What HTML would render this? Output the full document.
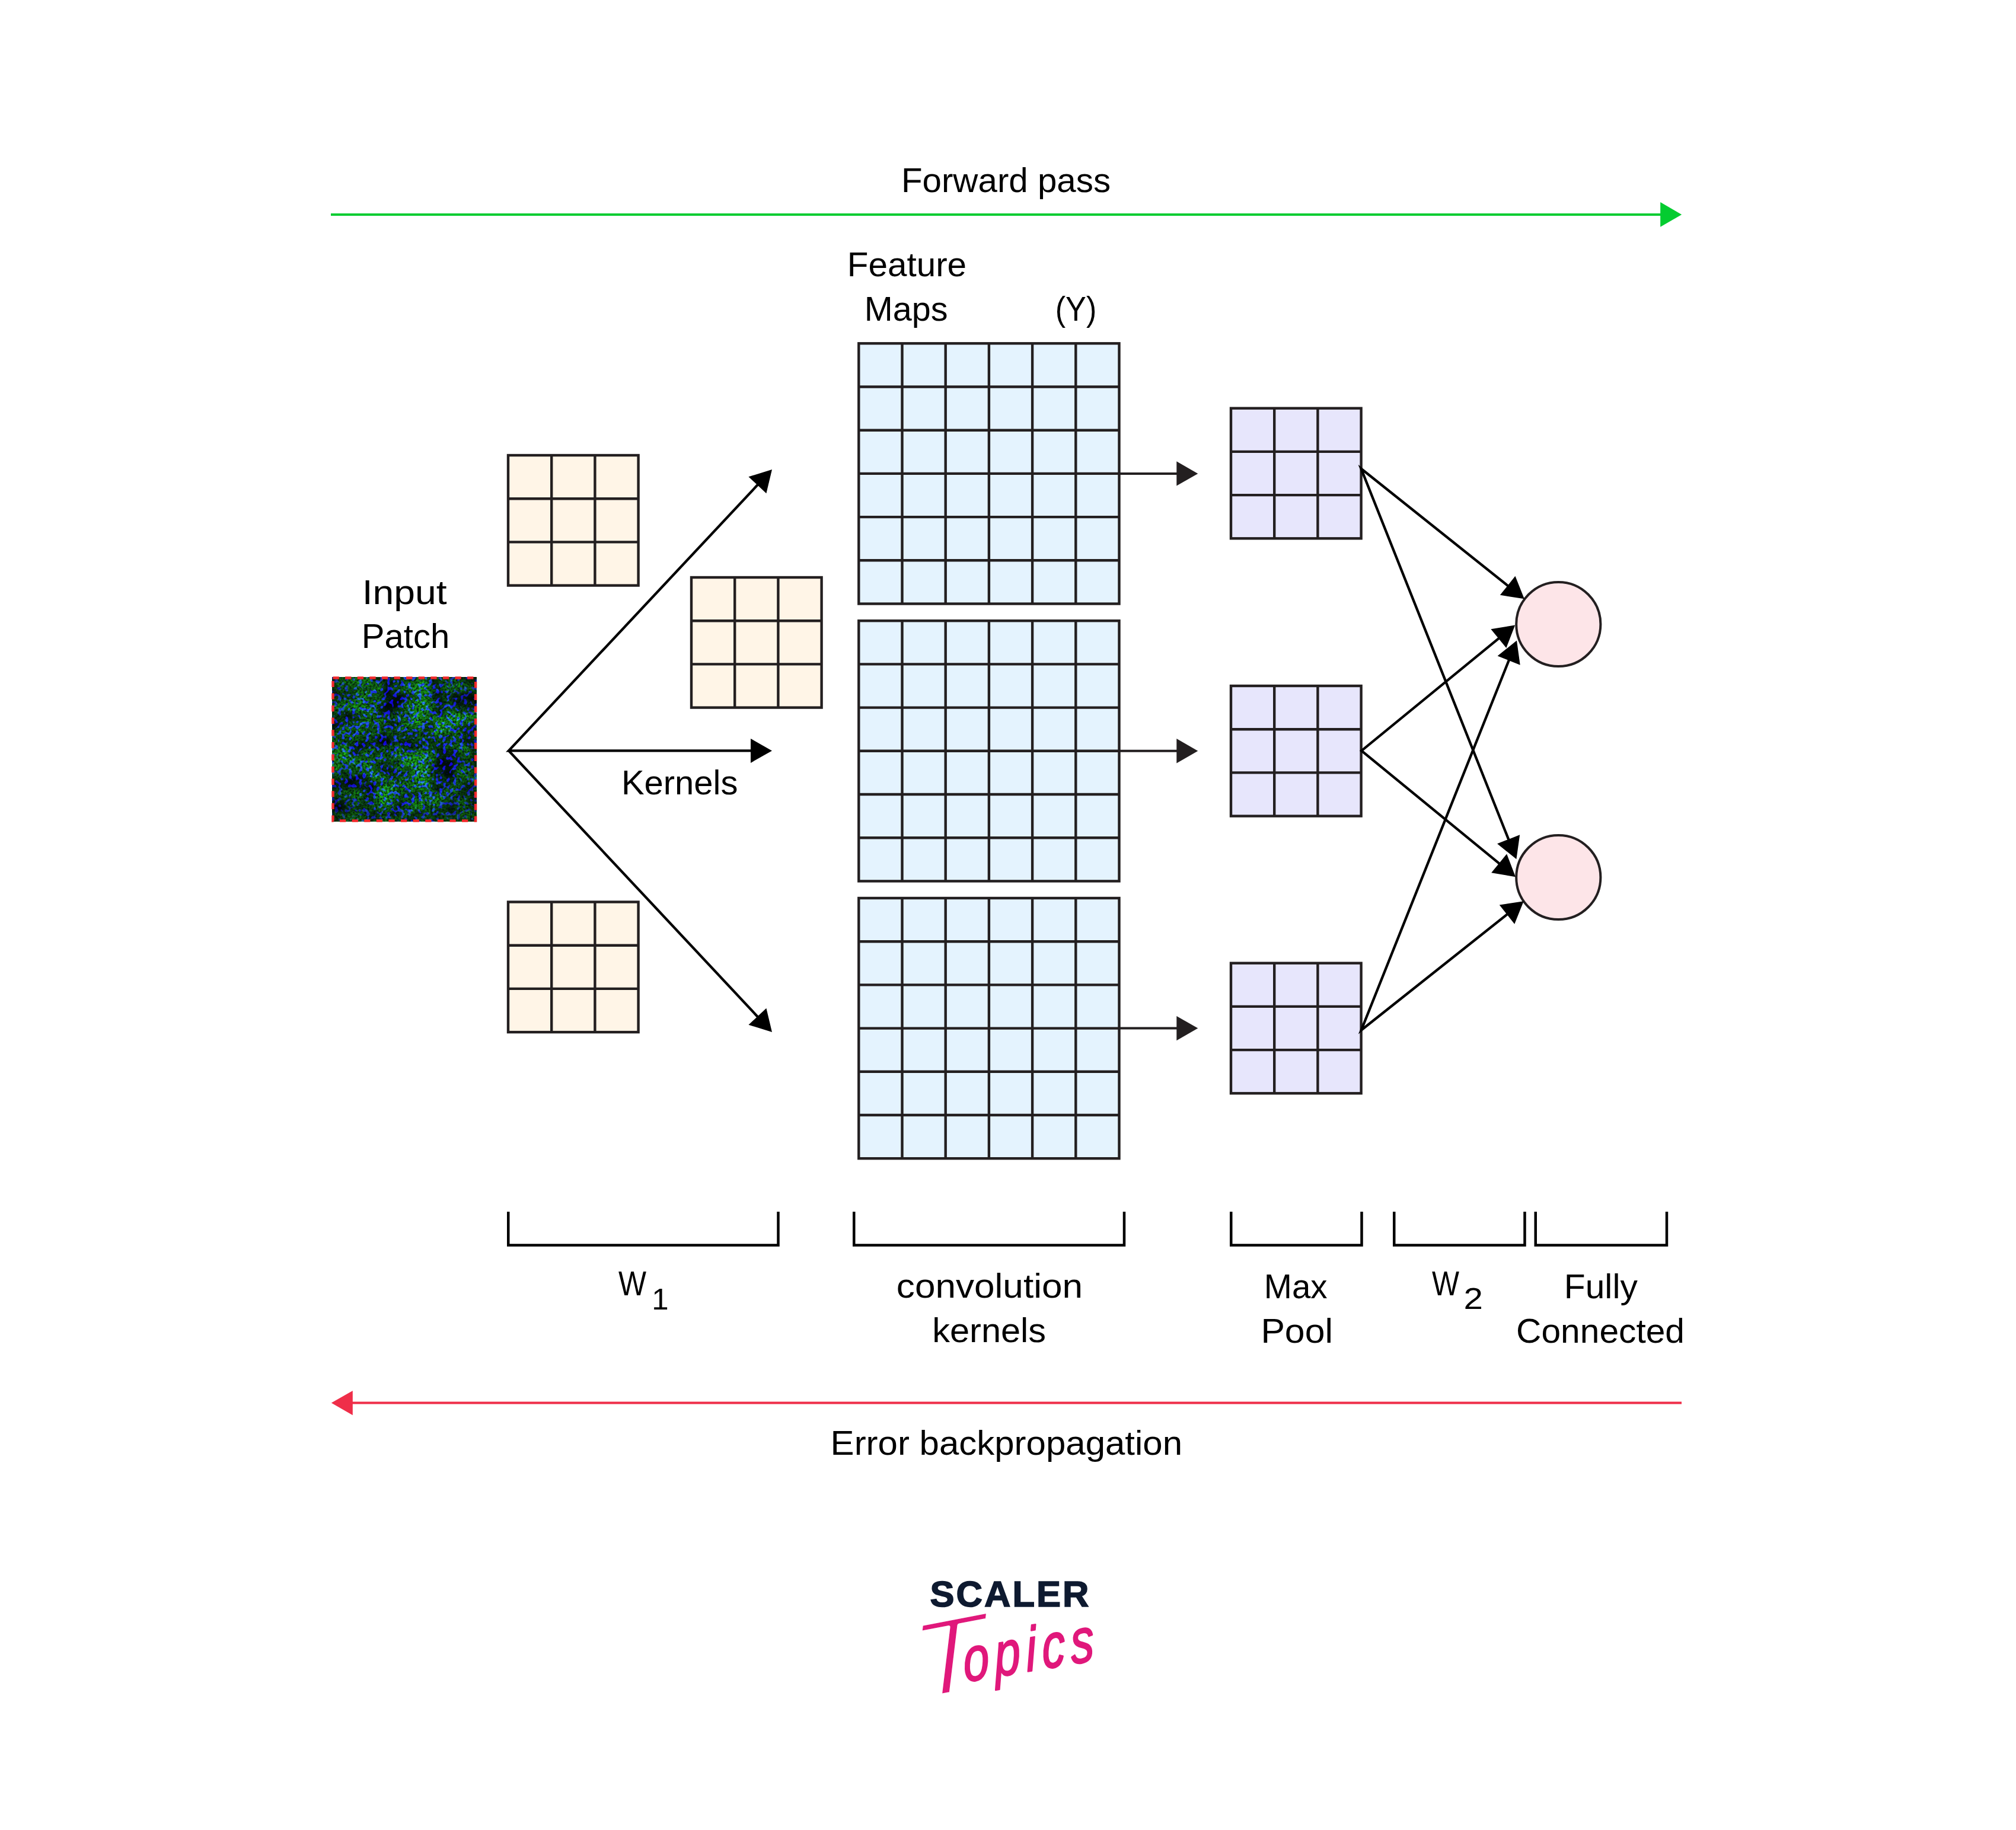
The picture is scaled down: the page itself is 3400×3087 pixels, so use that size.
<!DOCTYPE html>
<html lang="en">
<head>
<meta charset="utf-8">
<title>CNN forward pass and error backpropagation</title>
<style>
html,body{margin:0;padding:0;background:#fff;}
body{width:3400px;height:3087px;overflow:hidden;}
svg{display:block;}
svg text{font-family:"Liberation Sans","DejaVu Sans",sans-serif;}
svg text.script{font-family:"Liberation Sans","DejaVu Sans",sans-serif;font-style:italic;}
</style>
</head>
<body>
<svg width="3400" height="3087" viewBox="0 0 3400 3087">
<defs>
<filter id="tex" x="0" y="0" width="100%" height="100%" color-interpolation-filters="sRGB">
<feTurbulence type="fractalNoise" baseFrequency="0.022 0.03" numOctaves="4" seed="4" result="n1"/>
<feColorMatrix in="n1" type="matrix" values="0 0 0 0 0  2.0 0 0 0 -0.42  0 0 0 0 1  0 0 0 0 1" result="m1"/>
<feTurbulence type="fractalNoise" baseFrequency="0.17" numOctaves="1" seed="9" result="n2"/>
<feColorMatrix in="n2" type="matrix" values="0 0 0 0 0  0 0 0 0 0  11 0 0 0 -5.85  0 0 0 0 1" result="m2"/>
<feTurbulence type="fractalNoise" baseFrequency="0.3" numOctaves="2" seed="21" result="n3"/>
<feColorMatrix in="n3" type="matrix" values="0 0 0 0 0  0 1.7 0 0 -0.25  0 0 0 0 0  0 0 0 0 1" result="m3"/>
<feComposite in="m2" in2="m3" operator="arithmetic" k1="0" k2="1" k3="1" k4="0" result="m23"/>
<feComposite in="m1" in2="m23" operator="arithmetic" k1="1" k2="0" k3="0" k4="0" result="c"/>
<feColorMatrix in="c" type="matrix" values="0 0.12 0.07 0 0  0 0.69 -0.04 0 0.05  0 0.06 0.8 0 0.04  0 0 0 0 1"/>
</filter>
<radialGradient id="vig" cx="0.5" cy="0.45" r="0.75">
<stop offset="0.55" stop-color="#000" stop-opacity="0"/>
<stop offset="1" stop-color="#000" stop-opacity="0.55"/>
</radialGradient>
</defs>
<rect width="3400" height="3087" fill="#fff"/>
<line x1="558.00" y1="361.90" x2="2802.20" y2="361.90" stroke="#04CC30" stroke-width="4"/><polygon points="2836.20,361.90 2800.20,382.70 2800.20,341.10" fill="#04CC30"/>
<line x1="2836.00" y1="2366.60" x2="592.80" y2="2366.60" stroke="#EF2E49" stroke-width="4"/><polygon points="558.80,2366.60 594.80,2345.95 594.80,2387.25" fill="#EF2E49"/>
<g id="patch">
<rect x="560" y="1142" width="243.6" height="244" fill="#062a14"/>
<rect x="560" y="1142" width="243.6" height="244" filter="url(#tex)"/>
<rect x="560" y="1142" width="243.6" height="244" fill="url(#vig)"/>
<rect x="561.5" y="1143.5" width="240.6" height="241" fill="none" stroke="#F0282B" stroke-width="4.4" stroke-dasharray="10.3 10.3"/>
</g>
<rect x="857.00" y="768.00" width="219.60" height="219.60" fill="#FFF5E7"/><path d="M930.20 768.00V987.60M857.00 841.20H1076.60M1003.40 768.00V987.60M857.00 914.40H1076.60" fill="none" stroke="#231F20" stroke-width="4.4"/><rect x="857.00" y="768.00" width="219.60" height="219.60" fill="none" stroke="#231F20" stroke-width="4.4"/>
<rect x="1166.00" y="974.00" width="219.60" height="219.60" fill="#FFF5E7"/><path d="M1239.20 974.00V1193.60M1166.00 1047.20H1385.60M1312.40 974.00V1193.60M1166.00 1120.40H1385.60" fill="none" stroke="#231F20" stroke-width="4.4"/><rect x="1166.00" y="974.00" width="219.60" height="219.60" fill="none" stroke="#231F20" stroke-width="4.4"/>
<rect x="857.00" y="1521.50" width="219.60" height="219.60" fill="#FFF5E7"/><path d="M930.20 1521.50V1741.10M857.00 1594.70H1076.60M1003.40 1521.50V1741.10M857.00 1667.90H1076.60" fill="none" stroke="#231F20" stroke-width="4.4"/><rect x="857.00" y="1521.50" width="219.60" height="219.60" fill="none" stroke="#231F20" stroke-width="4.4"/>
<path d="M1278.77 816.82L858.00 1266.40L1268.00 1266.40" fill="none" stroke="#000" stroke-width="4.3" stroke-linejoin="miter" stroke-miterlimit="20"/><polygon points="1302.00,792.00 1292.37,832.29 1262.43,804.28" fill="#000"/><polygon points="1302.00,1266.40 1266.00,1286.90 1266.00,1245.90" fill="#000"/>
<line x1="858.00" y1="1266.40" x2="1278.77" y2="1716.17" stroke="#000" stroke-width="4.3"/><polygon points="1302.00,1741.00 1262.44,1728.72 1292.38,1700.71" fill="#000"/>
<rect x="1448.30" y="579.30" width="439.20" height="439.20" fill="#E4F3FE"/><path d="M1521.50 579.30V1018.50M1448.30 652.50H1887.50M1594.70 579.30V1018.50M1448.30 725.70H1887.50M1667.90 579.30V1018.50M1448.30 798.90H1887.50M1741.10 579.30V1018.50M1448.30 872.10H1887.50M1814.30 579.30V1018.50M1448.30 945.30H1887.50" fill="none" stroke="#231F20" stroke-width="4.4"/><rect x="1448.30" y="579.30" width="439.20" height="439.20" fill="none" stroke="#231F20" stroke-width="4.4"/>
<line x1="1887.50" y1="798.90" x2="1986.30" y2="798.90" stroke="#231F20" stroke-width="4"/><polygon points="2020.30,798.90 1984.30,819.60 1984.30,778.20" fill="#231F20"/>
<rect x="1448.30" y="1047.20" width="439.20" height="439.20" fill="#E4F3FE"/><path d="M1521.50 1047.20V1486.40M1448.30 1120.40H1887.50M1594.70 1047.20V1486.40M1448.30 1193.60H1887.50M1667.90 1047.20V1486.40M1448.30 1266.80H1887.50M1741.10 1047.20V1486.40M1448.30 1340.00H1887.50M1814.30 1047.20V1486.40M1448.30 1413.20H1887.50" fill="none" stroke="#231F20" stroke-width="4.4"/><rect x="1448.30" y="1047.20" width="439.20" height="439.20" fill="none" stroke="#231F20" stroke-width="4.4"/>
<line x1="1887.50" y1="1266.80" x2="1986.30" y2="1266.80" stroke="#231F20" stroke-width="4"/><polygon points="2020.30,1266.80 1984.30,1287.50 1984.30,1246.10" fill="#231F20"/>
<rect x="1448.30" y="1515.00" width="439.20" height="439.20" fill="#E4F3FE"/><path d="M1521.50 1515.00V1954.20M1448.30 1588.20H1887.50M1594.70 1515.00V1954.20M1448.30 1661.40H1887.50M1667.90 1515.00V1954.20M1448.30 1734.60H1887.50M1741.10 1515.00V1954.20M1448.30 1807.80H1887.50M1814.30 1515.00V1954.20M1448.30 1881.00H1887.50" fill="none" stroke="#231F20" stroke-width="4.4"/><rect x="1448.30" y="1515.00" width="439.20" height="439.20" fill="none" stroke="#231F20" stroke-width="4.4"/>
<line x1="1887.50" y1="1734.60" x2="1986.30" y2="1734.60" stroke="#231F20" stroke-width="4"/><polygon points="2020.30,1734.60 1984.30,1755.30 1984.30,1713.90" fill="#231F20"/>
<rect x="2076.00" y="688.70" width="219.60" height="219.60" fill="#E7E6FC"/><path d="M2149.20 688.70V908.30M2076.00 761.90H2295.60M2222.40 688.70V908.30M2076.00 835.10H2295.60" fill="none" stroke="#231F20" stroke-width="4.4"/><rect x="2076.00" y="688.70" width="219.60" height="219.60" fill="none" stroke="#231F20" stroke-width="4.4"/>
<rect x="2076.00" y="1157.00" width="219.60" height="219.60" fill="#E7E6FC"/><path d="M2149.20 1157.00V1376.60M2076.00 1230.20H2295.60M2222.40 1157.00V1376.60M2076.00 1303.40H2295.60" fill="none" stroke="#231F20" stroke-width="4.4"/><rect x="2076.00" y="1157.00" width="219.60" height="219.60" fill="none" stroke="#231F20" stroke-width="4.4"/>
<rect x="2076.00" y="1624.70" width="219.60" height="219.60" fill="#E7E6FC"/><path d="M2149.20 1624.70V1844.30M2076.00 1697.90H2295.60M2222.40 1624.70V1844.30M2076.00 1771.10H2295.60" fill="none" stroke="#231F20" stroke-width="4.4"/><rect x="2076.00" y="1624.70" width="219.60" height="219.60" fill="none" stroke="#231F20" stroke-width="4.4"/>
<circle cx="2628.3" cy="1053" r="71.1" fill="#FDE5E8" stroke="#231F20" stroke-width="4"/>
<circle cx="2628.3" cy="1480" r="71.1" fill="#FDE5E8" stroke="#231F20" stroke-width="4"/>
<path d="M2544.23 989.09L2295.50 790.50L2544.84 1417.61" fill="none" stroke="#000" stroke-width="4.3" stroke-linejoin="miter" stroke-miterlimit="20"/><polygon points="2570.80,1010.30 2529.88,1003.86 2555.46,971.82" fill="#000"/><polygon points="2557.40,1449.20 2525.05,1423.32 2563.15,1408.17" fill="#000"/>
<path d="M2528.89 1075.94L2296.20 1266.40L2529.70 1457.66" fill="none" stroke="#000" stroke-width="4.3" stroke-linejoin="miter" stroke-miterlimit="20"/><polygon points="2555.20,1054.40 2540.33,1093.07 2514.36,1061.34" fill="#000"/><polygon points="2556.00,1479.20 2515.16,1472.25 2541.14,1440.53" fill="#000"/>
<path d="M2545.40 1112.18L2295.80 1737.80L2543.08 1541.35" fill="none" stroke="#000" stroke-width="4.3" stroke-linejoin="miter" stroke-miterlimit="20"/><polygon points="2558.00,1080.60 2563.70,1121.63 2525.62,1106.44" fill="#000"/><polygon points="2569.70,1520.20 2554.26,1558.64 2528.76,1526.54" fill="#000"/>
<path d="M857.25 2044V2100.6H1312.5V2044" fill="none" stroke="#000" stroke-width="4.5"/>
<path d="M1440.25 2044V2100.6H1896.0V2044" fill="none" stroke="#000" stroke-width="4.5"/>
<path d="M2076.25 2044V2100.6H2296.5V2044" fill="none" stroke="#000" stroke-width="4.5"/>
<path d="M2351.25 2044V2100.6H2571.5V2044" fill="none" stroke="#000" stroke-width="4.5"/>
<path d="M2589.75 2044V2100.6H2811.0V2044" fill="none" stroke="#000" stroke-width="4.5"/>
<g fill="#000">
<text x="1696.5" y="324" font-size="57.3" text-anchor="middle" textLength="353.14" lengthAdjust="spacingAndGlyphs">Forward pass</text>
<text x="1529.5" y="466" font-size="57.3" text-anchor="middle" textLength="201.23" lengthAdjust="spacingAndGlyphs">Feature</text>
<text x="1528.25" y="540.5" font-size="57.3" text-anchor="middle" textLength="140.76" lengthAdjust="spacingAndGlyphs">Maps</text>
<text x="1814.5" y="540.5" font-size="57.3" text-anchor="middle" textLength="69.63" lengthAdjust="spacingAndGlyphs">(Y)</text>
<text x="682.15" y="1019" font-size="57.3" text-anchor="middle" textLength="142.97" lengthAdjust="spacingAndGlyphs">Input</text>
<text x="684.0" y="1093.4" font-size="57.3" text-anchor="middle" textLength="148.43" lengthAdjust="spacingAndGlyphs">Patch</text>
<text x="1146.2" y="1340" font-size="57.3" text-anchor="middle" textLength="196.59" lengthAdjust="spacingAndGlyphs">Kernels</text>
<text x="1066.5" y="2185" font-size="57.3" text-anchor="middle" textLength="47.0" lengthAdjust="spacingAndGlyphs">W</text>
<text x="1113.55" y="2208.5" font-size="50" text-anchor="middle" textLength="28.36" lengthAdjust="spacingAndGlyphs">1</text>
<text x="1668.95" y="2189.4" font-size="57.3" text-anchor="middle" textLength="314.22" lengthAdjust="spacingAndGlyphs">convolution</text>
<text x="1668.15" y="2263.8" font-size="57.3" text-anchor="middle" textLength="191.87" lengthAdjust="spacingAndGlyphs">kernels</text>
<text x="2185.2" y="2189.5" font-size="57.3" text-anchor="middle" textLength="106.89" lengthAdjust="spacingAndGlyphs">Max</text>
<text x="2187.15" y="2264.9" font-size="57.3" text-anchor="middle" textLength="121.49" lengthAdjust="spacingAndGlyphs">Pool</text>
<text x="2437.95" y="2184.5" font-size="57.3" text-anchor="middle" textLength="46.02" lengthAdjust="spacingAndGlyphs">W</text>
<text x="2484.7" y="2208.3" font-size="50" text-anchor="middle" textLength="32.45" lengthAdjust="spacingAndGlyphs">2</text>
<text x="2699.85" y="2189.5" font-size="57.3" text-anchor="middle" textLength="124.02" lengthAdjust="spacingAndGlyphs">Fully</text>
<text x="2699.05" y="2264.9" font-size="57.3" text-anchor="middle" textLength="283.98" lengthAdjust="spacingAndGlyphs">Connected</text>
<text x="1697.35" y="2453.6" font-size="57.3" text-anchor="middle" textLength="593.42" lengthAdjust="spacingAndGlyphs">Error backpropagation</text>
</g>
<text x="1702.5" y="2709.8" font-size="61.5" font-weight="700" fill="#0E1A30" stroke="#0E1A30" stroke-width="1.6" text-anchor="middle" textLength="268" lengthAdjust="spacing">SCALER</text>
<g role="img" aria-label="Scaler Topics" transform="translate(1595 2856) rotate(-9.5) skewX(-6)" fill="#E0187B" stroke="#fff" stroke-linejoin="round">
<text class="script"><tspan x="-52" y="3.6" rotate="-1.5" font-size="181" stroke-width="6" textLength="124" lengthAdjust="spacingAndGlyphs">T</tspan><tspan x="33" y="-13" rotate="0" font-size="105" stroke="#E0187B" stroke-width="2.6" letter-spacing="13" textLength="232.5" lengthAdjust="spacingAndGlyphs">opics</tspan></text>
</g>
</svg>
</body>
</html>
